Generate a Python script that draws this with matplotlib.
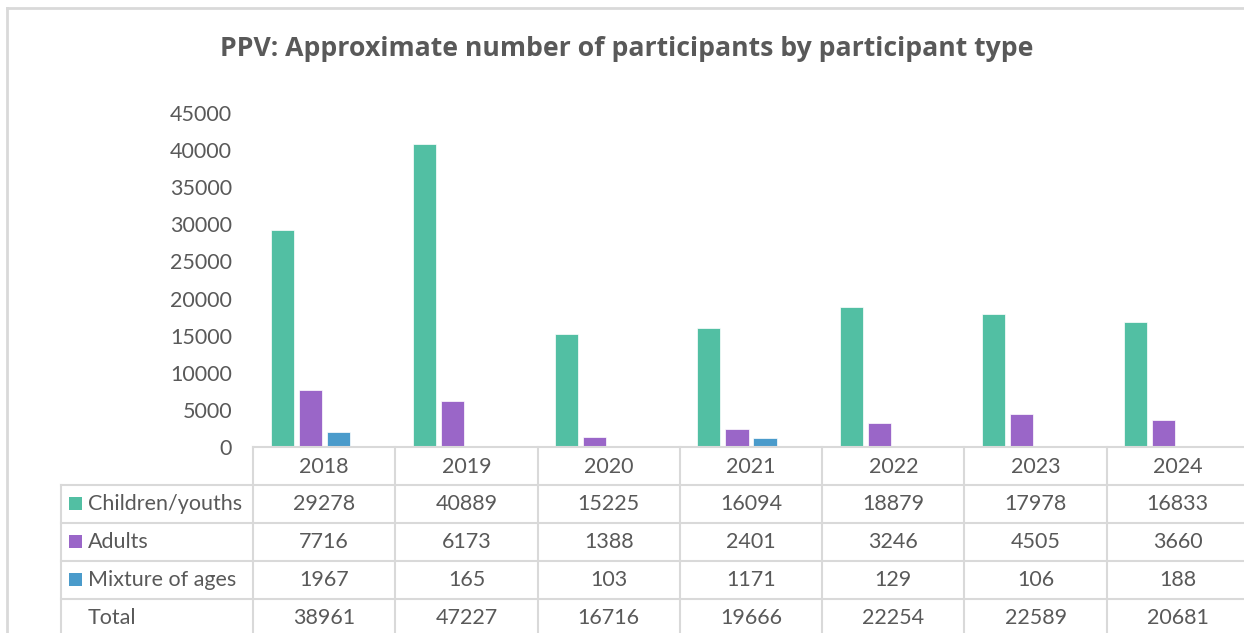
import matplotlib

matplotlib.use("Agg")
import matplotlib.pyplot as plt
from matplotlib.patches import Rectangle
import numpy as np

years = ["2018", "2019", "2020", "2021", "2022", "2023", "2024"]
children = [29278, 40889, 15225, 16094, 18879, 17978, 16833]
adults = [7716, 6173, 1388, 2401, 3246, 4505, 3660]
mixture = [1967, 165, 103, 1171, 129, 106, 188]
total = [38961, 47227, 16716, 19666, 22254, 22589, 20681]
series_names = ["Children/youths", "Adults", "Mixture of ages", "Total"]
colors = ["#52BFA3", "#9A66C8", "#4A9BCB", None]
title = "PPV: Approximate number of participants by participant type"

TEXT = "#595959"
GRID = "#D9D9D9"
W, H = 1244, 633
FS = 15.5

plt.rcParams["font.family"] = ["Lato", "DejaVu Sans"]


def fx(px):
    return px / W


def fy(py):
    return 1 - py / H


fig = plt.figure(figsize=(W / 100, H / 100), dpi=100)
ax = fig.add_axes([fx(253), fy(447), fx(1249) - fx(253), fy(113) - fy(447)])

x = np.arange(len(years))
step = 0.197
width = 0.162
values = [children, adults, mixture, total]
for i, (vals, col) in enumerate(zip(values, colors)):
    if col is None:
        continue  # Total is in the table only, its bar slot stays empty
    ax.bar(x + (i - 1.5) * step, vals, width=width, color=col,
           edgecolor="white", linewidth=0.5, zorder=2)

ax.set_xlim(-0.5, len(years) - 0.5)
ax.set_ylim(0, 45000)
ax.set_yticks(range(0, 45001, 5000))
ax.set_yticklabels([str(v) for v in range(0, 45001, 5000)])
ax.tick_params(axis="y", length=0, pad=15, labelsize=FS, labelcolor=TEXT)
ax.set_xticks([])
for s in ["top", "right", "left"]:
    ax.spines[s].set_visible(False)
ax.spines["bottom"].set_color(GRID)
ax.spines["bottom"].set_linewidth(1.5)

fig.text(fx(627), fy(49), title, ha="center", va="center", fontsize=19.2,
         fontweight="bold", color=TEXT, family=["Open Sans", "DejaVu Sans"])

# data table below the axis
row_lines = [447, 485, 523, 561, 599, 640]
table_left = 61
lw = 1.5
for yl in row_lines[1:-1]:
    fig.add_artist(plt.Line2D([fx(table_left), 1], [fy(yl), fy(yl)], color=GRID, lw=lw))
fig.add_artist(plt.Line2D([fx(table_left), fx(table_left)], [fy(485), 0], color=GRID, lw=lw))
trans = ax.get_xaxis_transform()
for b in np.arange(len(years) + 1) - 0.5:
    ax.plot([b, b], [0, -(640 - 447) / (447 - 113)], transform=trans,
            color=GRID, lw=lw, clip_on=False)

blend = matplotlib.transforms.blended_transform_factory(ax.transData, fig.transFigure)
text_kw = dict(fontsize=FS, color=TEXT, va="center")
for j, yr in enumerate(years):
    ax.text(j, fy(467), yr, transform=blend, ha="center", **text_kw)
row_centers = [504, 542, 580, 618]
for name, vals, col, yc in zip(series_names, values, colors, row_centers):
    if col is not None:
        fig.add_artist(Rectangle((fx(69), fy(yc - 1 + 6.5)), fx(13), fy(0) - fy(13),
                                 facecolor=col, edgecolor="none"))
    fig.text(fx(88), fy(yc), name, ha="left", **text_kw)
    for j, v in enumerate(vals):
        ax.text(j, fy(yc), str(v), transform=blend, ha="center", **text_kw)

# chart border
fig.add_artist(plt.Line2D([fx(7), 1], [fy(8), fy(8)], color=GRID, lw=2))
fig.add_artist(plt.Line2D([fx(7), fx(7)], [fy(8), 0], color=GRID, lw=2))

fig.savefig("out.png", dpi=100)
